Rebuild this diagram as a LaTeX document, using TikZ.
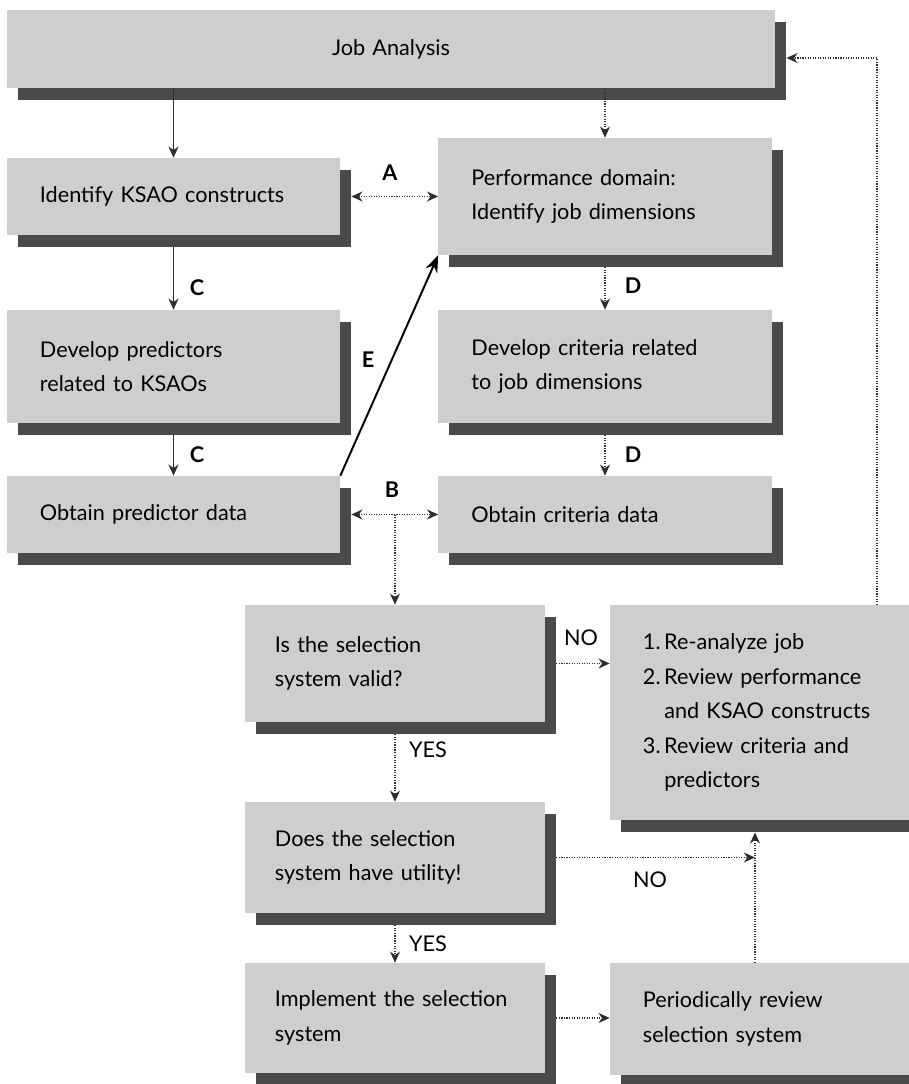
\documentclass[tikz,border=0pt]{standalone}
\usepackage{fontspec}
\setmainfont{Lato}
\usetikzlibrary{arrows.meta,shadows}
\definecolor{boxgray}{HTML}{D0CDD0}
\definecolor{shadegray}{HTML}{4A4A4A}
\definecolor{linegray}{HTML}{2E2E2E}

\begin{document}
\begin{tikzpicture}[x=0.025cm, y=-0.025cm, >={Stealth[length=0.28cm,width=0.25cm]},
  box/.style={fill=boxgray, align=left, inner xsep=0.825cm, inner ysep=0pt,
    drop shadow={shadow xshift=0.275cm, shadow yshift=-0.3cm, fill=shadegray, opacity=1},
    font=\fontsize{15.4}{24.5}\selectfont},
  link/.style={->, linegray, line width=0.7pt},
  dlink/.style={link, line width=0.8pt, densely dotted},
  lbl/.style={font=\fontsize{15.4}{18}\selectfont\bfseries},
  ans/.style={font=\fontsize{15.4}{18}\selectfont}]
                \useasboundingbox (0,0) rectangle (908,1084);

                \node[box, align=center, text width=17.55cm, minimum height=1.95cm] (job) at (391,49) {Job Analysis};
                \node[box, text width=6.675cm, minimum height=1.925cm] (ksao) at (173.5,196.5) {Identify KSAO constructs};
                \node[box, text width=6.675cm, minimum height=2.925cm] (perf) at (605,196.5) {Performance domain:\\Identify job dimensions};
                \node[box, text width=6.675cm, minimum height=2.825cm] (pred) at (173.5,366.5) {Develop predictors\\related to KSAOs};
                \node[box, text width=6.675cm, minimum height=2.825cm] (crit) at (605,366.5) {Develop criteria related\\to job dimensions};
                \node[box, text width=6.675cm, minimum height=1.925cm] (pdata) at (173.5,514.5) {Obtain predictor data};
                \node[box, text width=6.675cm, minimum height=1.925cm] (cdata) at (605,514.5) {Obtain criteria data};
                \node[box, inner xsep=0.75cm, text width=6cm, minimum height=2.925cm] (valid) at (395,663.5) {Is the selection\\system valid?};
                \node[box, text width=6.1cm, minimum height=5.375cm] (review) at (765,712.5) {1.\,Re-analyze job\\2.\,Review performance\\\phantom{2.\,}and KSAO constructs\\3.\,Review criteria and\\\phantom{3.\,}predictors};
                \node[box, inner xsep=0.75cm, text width=6cm, minimum height=2.775cm] (util) at (395,857.5) {Does the selection\\system have utility!};
                \node[box, inner xsep=0.75cm, text width=6cm, minimum height=2.75cm] (impl) at (395,1018) {Implement the selection\\system};
                \node[box, text width=6.1cm, minimum height=2.8cm] (period) at (765,1019) {Periodically review\\selection system};

                % upper part
                \draw[link] (ksao.north |- job.south) -- (ksao.north);
                \draw[dlink] (perf.north |- job.south) -- (perf.north);
                \draw[dlink, <->] ([xshift=0.275cm]ksao.east) -- (perf.west);
                \draw[link] ([yshift=-0.3cm]ksao.south) -- (pred.north);
                \draw[link] ([yshift=-0.3cm]pred.south) -- (pdata.north);
                \draw[dlink] ([yshift=-0.3cm]perf.south) -- (crit.north);
                \draw[dlink] ([yshift=-0.3cm]crit.south) -- (cdata.north);
                \draw[->, >={Stealth[length=0.42cm,width=0.32cm]}, line width=1.4pt] (pdata.north east) -- (perf.south west);
                \draw[dlink, <->] ([xshift=0.275cm]pdata.east) -- (cdata.west);
                \draw[dlink] (valid.north |- pdata.east) -- (valid.north);

                \node[lbl] (la) at (390,173) {A};
                \node[lbl] (lb) at (392,490) {B};
                \node[lbl] (lc1) at (197,288) {C};
                \node[lbl] (lc2) at (197,455) {C};
                \node[lbl] (ld1) at (633,286) {D};
                \node[lbl] (ld2) at (633,455) {D};
                \node[lbl] (le) at (368,360) {E};

                % decisions
                \draw[dlink] ([xshift=0.275cm]valid.east) -- (review.west |- valid.east);
                \draw[dlink] ([xshift=2.8cm]review.north) |- ([xshift=0.275cm,yshift=-0.225cm]job.east);
                \draw[dlink] ([yshift=-0.3cm]valid.south) -- (util.north);
                \draw[dlink] ([xshift=0.275cm]util.east) -- ([xshift=-0.25cm]period.north |- util.east);
                \draw[dlink] ([xshift=-0.25cm]period.north) -- ([xshift=-0.25cm,yshift=-0.3cm]review.south);
                \draw[dlink] ([yshift=-0.3cm]util.south) -- (impl.north);
                \draw[dlink] ([xshift=0.275cm]impl.east) -- (period.west |- impl.east);

                \node[ans] (lno1) at (581,638) {NO};
                \node[ans] (lno2) at (650,880) {NO};
                \node[ans] (lyes1) at (428,750) {YES};
                \node[ans] (lyes2) at (428,944) {YES};
\end{tikzpicture}
\end{document}
